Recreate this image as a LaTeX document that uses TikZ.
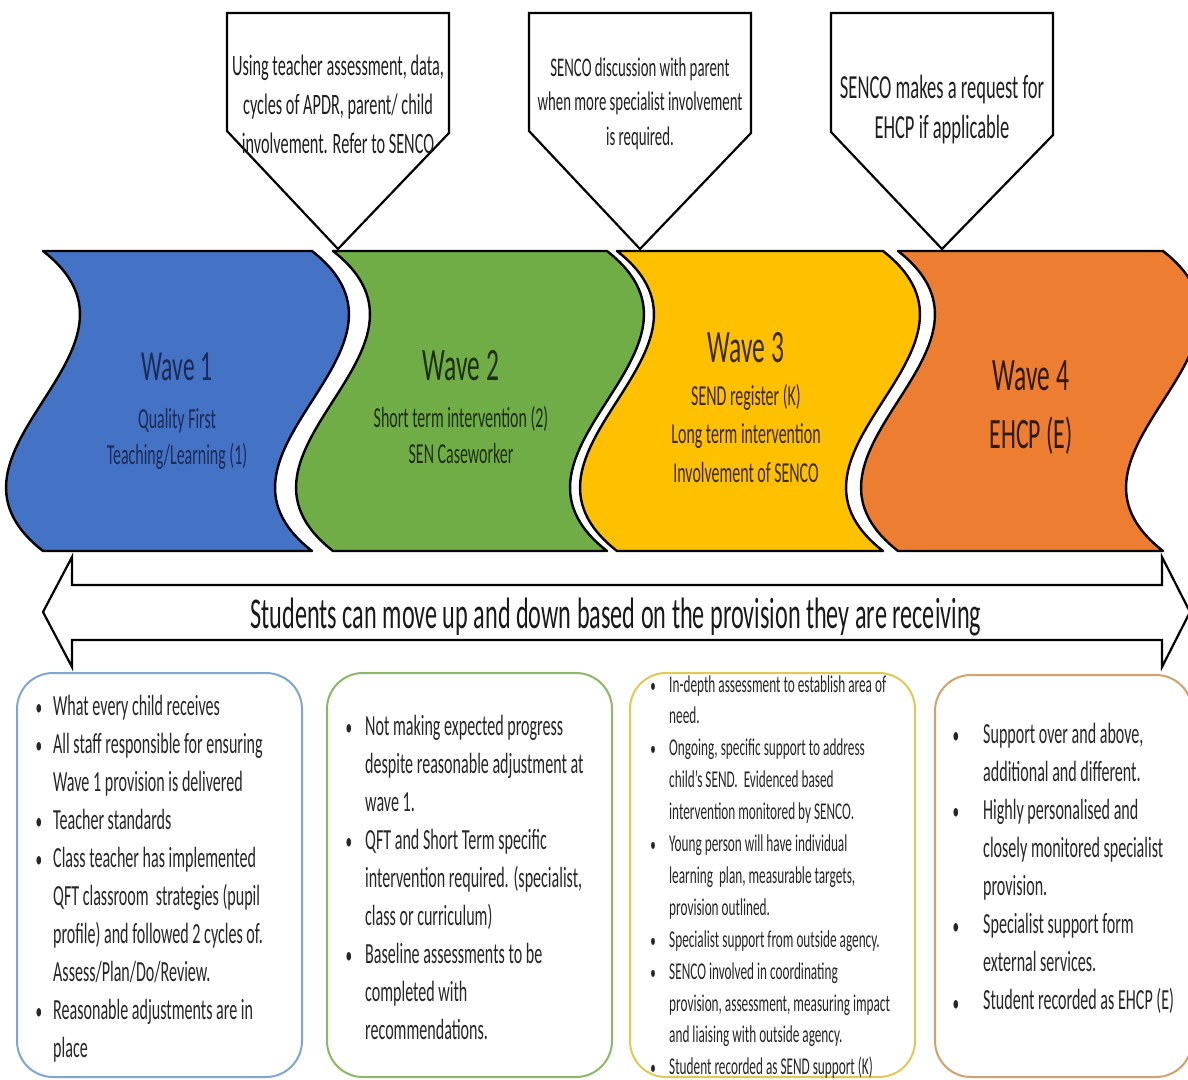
\documentclass[tikz,border=0pt]{standalone}
\usepackage{fontspec}
\setmainfont{Carlito}[FakeStretch=0.55]
\definecolor{waveA}{HTML}{4472C4}
\definecolor{waveB}{HTML}{70AD47}
\definecolor{waveC}{HTML}{FFC000}
\definecolor{waveD}{HTML}{ED7D31}
\definecolor{txtA}{HTML}{1C2A56}
\definecolor{txtB}{HTML}{1E2E14}
\definecolor{txtC}{HTML}{3A2A08}
\definecolor{txtD}{HTML}{2E1A0E}
\definecolor{bodytxt}{HTML}{262626}
\definecolor{edgeA}{HTML}{7FA6D3}
\definecolor{edgeB}{HTML}{8DB866}
\definecolor{edgeC}{HTML}{E3C857}
\definecolor{edgeD}{HTML}{D6A06C}
\newcommand\mlines[1]{\begin{tabular}[t]{@{}l@{}}#1\end{tabular}}
\newcommand\clines[1]{\begin{tabular}[t]{@{}c@{}}#1\end{tabular}}
\newcommand\fsz[2]{\fontsize{#1}{#2}\selectfont}
\begin{document}
\begin{tikzpicture}[x=1pt,y=-1pt,
  wave/.style={draw=black, line width=2.4pt, line join=round},
  callout/.style={draw=black, line width=2.2pt, fill=white, line join=miter},
  panel/.style={line width=2pt, rounded corners=36pt, fill=white},
  arrowbox/.style={draw=black, line width=2.2pt, fill=white, line join=miter},
  wtitle/.style={anchor=base, inner sep=0pt},
  wsub/.style={anchor=base, inner sep=0pt, font=\fsz{29}{36}},
  ctext/.style={anchor=base, inner sep=0pt, text=black!88},
  bodyA/.style={anchor=base west, inner sep=0pt, text=bodytxt, font=\fsz{29.2}{38.1}},
  bodyC/.style={anchor=base west, inner sep=0pt, text=bodytxt, font=\fsz{24.1}{31.9}},
  bul/.style={anchor=base, inner sep=0pt, text=bodytxt, font=\fsz{24}{30}},
  bulC/.style={anchor=base, inner sep=0pt, text=bodytxt, font=\fsz{20}{26}}
]
\useasboundingbox (0,0) rectangle (1188,1079);
\clip (0,0) rectangle (1188,1079);
\fill[white] (0,0) rectangle (1188,1079);

% waves
\filldraw[wave, fill=waveA] (43,251) -- (312,251) .. controls (440,351) and (184,451) .. (312,551) -- (43,551) .. controls (-85,451) and (171,351) .. (43,251) -- cycle;
\filldraw[wave, fill=waveB] (333,251) -- (607,251) .. controls (735,351) and (479,451) .. (607,551) -- (333,551) .. controls (205,451) and (461,351) .. (333,251) -- cycle;
\filldraw[wave, fill=waveC] (617,251) -- (883,251) .. controls (1011,351) and (755,451) .. (883,551) -- (617,551) .. controls (489,451) and (745,351) .. (617,251) -- cycle;
\filldraw[wave, fill=waveD] (898,251) -- (1163,251) .. controls (1291,351) and (1035,451) .. (1163,551) -- (898,551) .. controls (770,451) and (1026,351) .. (898,251) -- cycle;

% wave texts
\node[wtitle, text=txtA, font=\fsz{42.9}{50}] (w1t) at (177,380) {Wave 1};
\node[wsub, text=txtA] (w1s) at (177,428) {\clines{Quality First\\Teaching/Learning (1)}};
\node[wtitle, text=txtB, font=\fsz{46.4}{50}] (w2t) at (461,380) {Wave 2};
\node[wsub, text=txtB] (w2s) at (461,427) {\clines{Short term intervention (2)\\SEN Caseworker}};
\node[wtitle, text=txtC, font=\fsz{46.4}{50}] (w3t) at (746,362) {Wave 3};
\node[wsub, text=txtC, font=\fsz{29}{38.5}] (w3s) at (746,405) {\clines{SEND register (K)\\Long term intervention\\Involvement of SENCO}};
\node[wtitle, text=txtD, font=\fsz{46.4}{50}] (w4t) at (1031,390) {Wave 4};
\node[wtitle, text=txtD, font=\fsz{43.3}{50}] (w4s) at (1031,448) {EHCP (E)};

% callouts
\filldraw[callout] (227,13) -- (449,13) -- (449,133) -- (338,249) -- (227,131) -- cycle;
\filldraw[callout] (529,13) -- (751,13) -- (751,133) -- (640,249) -- (529,131) -- cycle;
\filldraw[callout] (831,13) -- (1053,13) -- (1053,135) -- (942,249) -- (831,132) -- cycle;
\node[ctext, font=\fsz{29.6}{39}] (c1) at (338,75) {\clines{Using teacher assessment, data,\\cycles of APDR, parent/ child\\involvement. Refer to SENCO}};
\node[ctext, font=\fsz{26.9}{34.5}] (c2) at (640,76) {\clines{SENCO discussion with parent\\when more specialist involvement\\is required.}};
\node[ctext, font=\fsz{33.7}{40}] (c3) at (942,98) {\clines{SENCO makes a request for\\EHCP if applicable}};

% double arrow
\filldraw[arrowbox] (43,612) -- (72,557) -- (72,585) -- (1162,585) -- (1162,557) -- (1190,612) -- (1162,667) -- (1162,640) -- (72,640) -- (72,667) -- cycle;
\node[anchor=base, inner sep=0pt, text=black!90, font=\fsz{44}{50}] (mv) at (616,628) {Students can move up and down based on the provision they are receiving};

% panels
\draw[panel, draw=edgeA] (17,673) rectangle (302,1077);
\draw[panel, draw=edgeB] (327,673) rectangle (612,1077);
\draw[panel, draw=edgeC] (630,673) rectangle (915,1077);
\draw[panel, draw=edgeD] (935,675) rectangle (1192,1077);

% panel 1
\node[bodyA] (p1) at (53,715) {\mlines{What every child receives\\All staff responsible for ensuring\\Wave 1 provision is delivered\\Teacher standards\\Class teacher has implemented\\QFT classroom\ \ strategies (pupil\\profile) and followed 2 cycles of.\\Assess/Plan/Do/Review.\\Reasonable adjustments are in\\place}};
\foreach \k in {0,1,3,4,8} \node[bul] (b1-\k) at (39,715+38.1*\k) {•};

% panel 2
\node[bodyA] (p2) at (365,735) {\mlines{Not making expected progress\\despite reasonable adjustment at\\wave 1.\\QFT and Short Term specific\\intervention required. (specialist,\\class or curriculum)\\Baseline assessments to be\\completed with\\recommendations.}};
\foreach \k in {0,3,6} \node[bul] (b2-\k) at (349,735+38.1*\k) {•};

% panel 3
\node[bodyC] (p3) at (669,692) {\mlines{In-depth assessment to establish area of\\need.\\Ongoing, specific support to address\\child’s SEND.\ \ Evidenced based\\intervention monitored by SENCO.\\Young person will have individual\\learning\ \ plan, measurable targets,\\provision outlined.\\Specialist support from outside agency.\\SENCO involved in coordinating\\provision, assessment, measuring impact\\and liaising with outside agency.\\Student recorded as SEND support (K)}};
\foreach \k in {0,2,5,8,9,12} \node[bulC] (b3-\k) at (653,692+31.9*\k) {•};

% panel 4
\node[bodyA] (p4) at (983,743) {\mlines{Support over and above,\\additional and different.\\Highly personalised and\\closely monitored specialist\\provision.\\Specialist support form\\external services.\\Student recorded as EHCP (E)}};
\foreach \k in {0,2,5,7} \node[bul] (b4-\k) at (956,743+38.3*\k) {•};
\end{tikzpicture}
\end{document}
